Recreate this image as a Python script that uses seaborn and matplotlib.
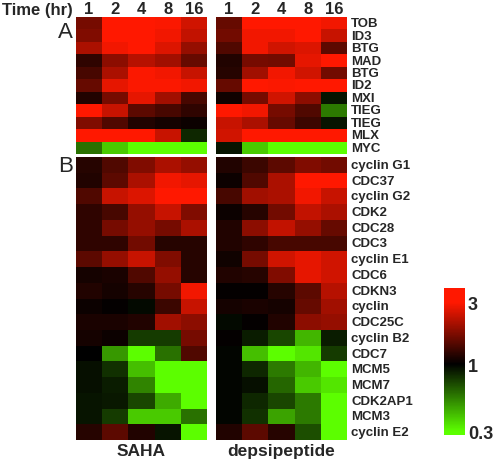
import numpy as np
import pandas as pd
import matplotlib
matplotlib.use("Agg")
import matplotlib.pyplot as plt
from matplotlib.colors import LinearSegmentedColormap
import seaborn as sns

sns.set_theme(style="white")
plt.rcParams["font.family"] = ["Liberation Sans", "DejaVu Sans"]

times = ["1", "2", "4", "8", "16"]
genes_a = ["TOB", "ID3", "BTG", "MAD", "BTG", "ID2", "MXI", "TIEG", "TIEG", "MLX", "MYC"]
genes_b = ["cyclin G1", "CDC37", "cyclin G2", "CDK2", "CDC28", "CDC3", "cyclin E1", "CDC6",
           "CDKN3", "cyclin", "CDC25C", "cyclin B2", "CDC7", "MCM5", "MCM7", "CDK2AP1",
           "MCM3", "cyclin E2"]

# log10 fold change
saha_a = [
    [0.22, 0.48, 0.48, 0.47, 0.39],
    [0.24, 0.48, 0.48, 0.45, 0.36],
    [0.32, 0.45, 0.48, 0.41, 0.28],
    [0.09, 0.26, 0.34, 0.30, 0.19],
    [0.13, 0.32, 0.47, 0.45, 0.37],
    [0.19, 0.43, 0.47, 0.47, 0.45],
    [0.06, 0.22, 0.43, 0.30, 0.13],
    [0.48, 0.37, 0.17, 0.13, 0.09],
    [0.24, 0.15, 0.06, 0.04, 0.02],
    [0.48, 0.48, 0.48, 0.37, -0.08],
    [-0.23, -0.41, -0.52, -0.52, -0.52],
]
deps_a = [
    [0.19, 0.48, 0.48, 0.48, 0.45],
    [0.21, 0.45, 0.45, 0.48, 0.37],
    [0.15, 0.45, 0.39, 0.41, 0.17],
    [0.06, 0.22, 0.21, 0.43, 0.48],
    [0.07, 0.30, 0.45, 0.39, 0.21],
    [0.19, 0.48, 0.47, 0.48, 0.48],
    [0.03, 0.22, 0.39, 0.26, -0.04],
    [0.48, 0.45, 0.22, 0.15, -0.25],
    [0.37, 0.32, 0.19, 0.11, -0.04],
    [0.39, 0.48, 0.48, 0.48, 0.48],
    [-0.04, -0.41, -0.52, -0.52, -0.52],
]
saha_b = [
    [0.07, 0.15, 0.24, 0.32, 0.28],
    [0.06, 0.17, 0.32, 0.45, 0.43],
    [0.15, 0.37, 0.41, 0.48, 0.48],
    [0.09, 0.13, 0.28, 0.37, 0.24],
    [0.09, 0.22, 0.28, 0.22, 0.32],
    [0.09, 0.09, 0.21, 0.07, 0.07],
    [0.17, 0.28, 0.37, 0.24, 0.07],
    [0.04, 0.05, 0.15, 0.28, 0.07],
    [0.06, 0.04, 0.07, 0.22, 0.45],
    [0.02, 0.01, -0.02, 0.11, 0.37],
    [0.05, 0.05, 0.06, 0.30, 0.26],
    [0.04, 0.02, -0.12, -0.12, 0.22],
    [0.00, -0.31, -0.52, -0.23, 0.15],
    [-0.03, -0.10, -0.39, -0.52, -0.52],
    [-0.03, -0.06, -0.27, -0.52, -0.52],
    [-0.04, -0.05, -0.14, -0.35, -0.52],
    [-0.04, -0.12, -0.41, -0.41, -0.23],
    [0.07, 0.17, 0.06, -0.04, -0.52],
]
deps_b = [
    [0.06, 0.11, 0.17, 0.24, 0.21],
    [0.02, 0.15, 0.32, 0.48, 0.48],
    [0.13, 0.30, 0.32, 0.45, 0.37],
    [0.02, 0.07, 0.21, 0.36, 0.32],
    [0.06, 0.26, 0.36, 0.28, 0.19],
    [0.06, 0.09, 0.13, 0.13, 0.13],
    [0.03, 0.22, 0.39, 0.43, 0.39],
    [0.06, 0.07, 0.24, 0.43, 0.39],
    [0.01, 0.01, 0.07, 0.17, 0.34],
    [0.04, 0.05, 0.04, 0.19, 0.30],
    [-0.02, 0.01, 0.06, 0.26, 0.28],
    [0.01, -0.06, -0.14, -0.37, -0.06],
    [-0.01, -0.39, -0.52, -0.47, -0.12],
    [-0.01, -0.08, -0.25, -0.37, -0.52],
    [-0.01, -0.03, -0.21, -0.41, -0.47],
    [-0.01, -0.08, -0.14, -0.25, -0.52],
    [-0.01, -0.10, -0.33, -0.25, -0.52],
    [0.06, 0.17, 0.07, -0.16, -0.52],
]
cbar_ticks = [0.3, 1, 3]
cbar_labels = ["0.3", "1", "3"]

# colour scale: full green at 0.3, black at 1, full red at 3 (saturated above)
vmin, vmax = np.log10(0.284), np.log10(3.85)
span = vmax - vmin
p_green = (np.log10(0.3) - vmin) / span
p_mid = (0 - vmin) / span
p_red = (np.log10(3) - vmin) / span
cmap = LinearSegmentedColormap.from_list(
    "gbr", [(0, "#5CFF00"), (p_green, "#5CFF00"), (p_mid, "#000000"),
            (p_red, "#FF1800"), (1, "#FF1800")])

W, H = 495, 464
fig = plt.figure(figsize=(W / 100, H / 100), dpi=100)

def rect(x0, y0, x1, y1):
    return [x0 / W, 1 - y1 / H, (x1 - x0) / W, (y1 - y0) / H]

ax_sa = fig.add_axes(rect(76, 18, 207, 155))
ax_sb = fig.add_axes(rect(76, 158, 207, 441))
ax_da = fig.add_axes(rect(216, 18, 347, 155))
ax_db = fig.add_axes(rect(216, 158, 347, 441))
cax = fig.add_axes(rect(444, 289, 465, 436))

def draw(ax, data, rows, first=False):
    df = pd.DataFrame(data, index=rows, columns=times)
    if first:
        kw = dict(cbar=True, cbar_ax=cax,
                  cbar_kws=dict(ticks=np.log10(cbar_ticks)))
    else:
        kw = dict(cbar=False)
    sns.heatmap(df, ax=ax, cmap=cmap, vmin=vmin, vmax=vmax,
                xticklabels=True, yticklabels=True, **kw)
    ax.tick_params(length=0)

draw(ax_sa, saha_a, genes_a, first=True)
draw(ax_sb, saha_b, genes_b)
draw(ax_da, deps_a, genes_a)
draw(ax_db, deps_b, genes_b)

for ax in (ax_sa, ax_da):
    ax.xaxis.tick_top()
    ax.set_xticklabels(times, fontsize=12, fontweight="bold", rotation=0)
    ax.tick_params(axis="x", pad=1)
for ax in (ax_sb, ax_db):
    ax.set_xticks([])
for ax in (ax_sa, ax_sb):
    ax.set_yticks([])
for ax in (ax_da, ax_db):
    ax.yaxis.tick_right()
    ax.set_yticklabels(ax.get_yticklabels(), fontsize=9.5, fontweight="bold",
                       rotation=0, va="center")
    ax.tick_params(axis="y", pad=3)
for ax in (ax_sa, ax_sb, ax_da, ax_db):
    ax.set_xlabel("")
    ax.set_ylabel("")

ax_sb.set_xlabel("SAHA", fontsize=12.5, fontweight="bold", labelpad=2)
ax_db.set_xlabel("depsipeptide", fontsize=12.5, fontweight="bold", labelpad=2)

fig.text(2 / W, 1 - 11 / H, "Time (hr)", fontsize=12, fontweight="bold", va="center", ha="left")
fig.text(73 / W, 1 - 33 / H, "A", fontsize=16, ha="right", va="center")
fig.text(73 / W, 1 - 167 / H, "B", fontsize=16, ha="right", va="center")

cax.set_yticklabels(cbar_labels, fontsize=13, fontweight="bold")
cax.tick_params(length=0, pad=2)
for s in cax.spines.values():
    s.set_visible(False)

fig.savefig("out.png", dpi=100)
